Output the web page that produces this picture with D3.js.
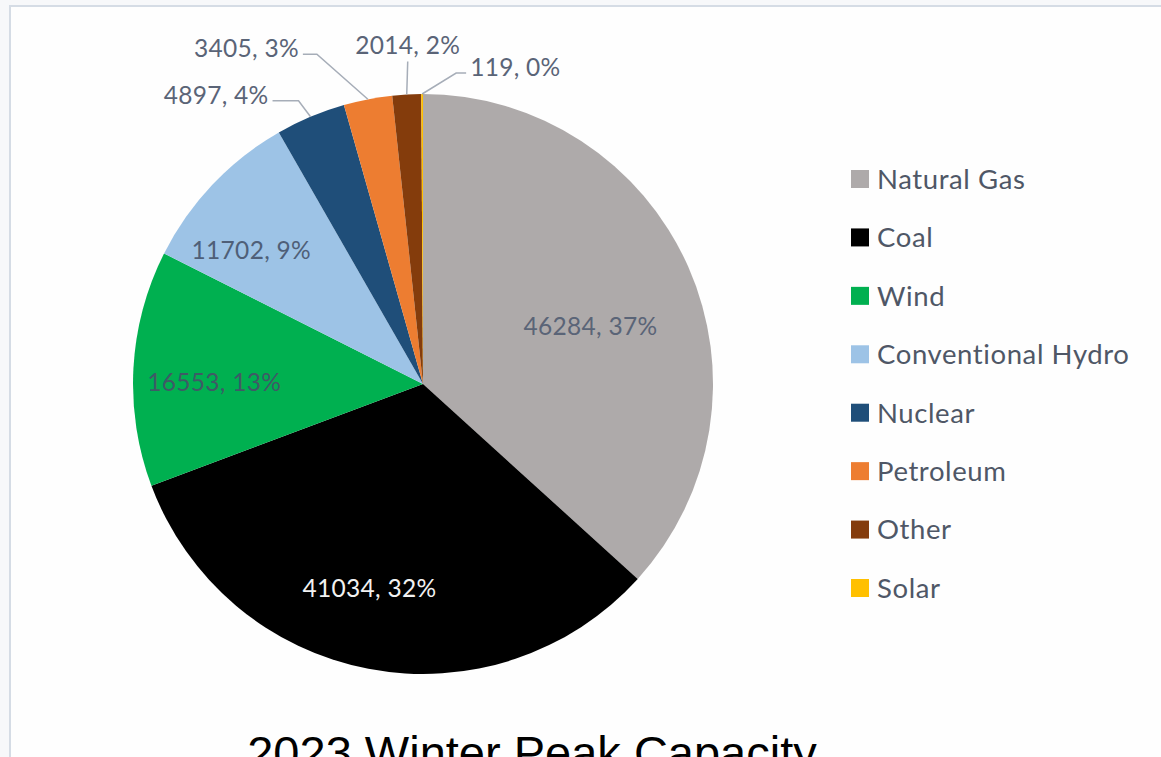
<!DOCTYPE html>
<html>
<head>
<meta charset="utf-8">
<script src="https://cdn.jsdelivr.net/npm/d3@7"></script>
<style>
    html, body { margin: 0; padding: 0; overflow: hidden; background: #f7f8fa; }
    svg { display: block; }
</style>
</head>
<body>
<svg id="chart"></svg>
<script>
// 2023 winter peak capacity by fuel type (MW)
const categories = ["Natural Gas", "Coal", "Wind", "Conventional Hydro", "Nuclear", "Petroleum", "Other", "Solar"];
const capacity = [46284, 41034, 16553, 11702, 4897, 3405, 2014, 119];
const colors = ["#aeaaaa", "#000000", "#00b050", "#9dc3e6", "#1f4e79", "#ed7d31", "#843c0c", "#ffc000"];
const title = "2023 Winter Peak Capacity";

function render() {
    const width = 1161;
    const height = 757;
    const cx = 423, cy = 384, radius = 290;

    const svg = d3.select("#chart")
        .attr("width", width)
        .attr("height", height);

    // slide frame
    svg.append("rect")
        .attr("x", 0).attr("y", 0)
        .attr("width", width).attr("height", height)
        .attr("fill", "#f7f8fa");
    svg.append("rect")
        .attr("x", 10).attr("y", 6)
        .attr("width", width + 10).attr("height", height + 10)
        .attr("fill", "#fefefe")
        .attr("stroke", "#d5dce5")
        .attr("stroke-width", 2);

    const color = d3.scaleOrdinal().domain(categories).range(colors);
    const total = d3.sum(capacity);
    const rows = categories.map((c, i) => ({ name: c, value: capacity[i] }));

    // whole percentages that add up to 100 (largest remainder)
    const raw = capacity.map(v => v / total * 100);
    const pct = raw.map(Math.floor);
    let left = 100 - d3.sum(pct);
    d3.range(raw.length)
        .sort((a, b) => (raw[b] - pct[b]) - (raw[a] - pct[a]))
        .forEach(function (i) {
            if (left > 0) { pct[i] += 1; left -= 1; }
        });
    rows.forEach((r, i) => r.pct = pct[i]);

    const pie = d3.pie()
        .sort(null)
        .value(d => d.value);
    const arcs = pie(rows);

    const arc = d3.arc().innerRadius(0).outerRadius(radius);

    const g = svg.append("g")
        .attr("transform", "translate(" + cx + "," + cy + ")");

    g.selectAll("path.slice")
        .data(arcs)
        .enter().append("path")
        .attr("class", "slice")
        .attr("d", arc)
        .attr("fill", d => color(d.data.name));

    function labelText(d) {
        return d.data.value + ", " + d.data.pct + "%";
    }

    // point at a given radius and angle (radians, clockwise from top)
    function polar(r, a) {
        return [r * Math.sin(a), -r * Math.cos(a)];
    }

    // labels inside the big slices: [radius factor, angle shift in degrees, colour]
    const inside = {
        "Natural Gas": [0.61, 5, "#5a6477"],
        "Coal": [0.73, 3.8, "#f2f2f2"],
        "Wind": [0.72, -2.7, "#3f5a66"],
        "Conventional Hydro": [0.75, -5.6, "#4f5f78"]
    };

    const labelFont = "Lato, 'Open Sans', sans-serif";

    g.selectAll("text.inner")
        .data(arcs.filter(d => inside[d.data.name]))
        .enter().append("text")
        .attr("class", "inner")
        .attr("transform", function (d) {
            const s = inside[d.data.name];
            const a = (d.startAngle + d.endAngle) / 2 + s[1] * Math.PI / 180;
            const p = polar(radius * s[0], a);
            return "translate(" + p[0] + "," + p[1] + ")";
        })
        .attr("dy", "0.35em")
        .attr("text-anchor", "middle")
        .style("font-family", labelFont)
        .style("font-size", "24.5px")
        .style("letter-spacing", "0.3px")
        .attr("fill", d => inside[d.data.name][2])
        .text(labelText);

    // callout labels for the thin slices: elbow offset from the edge and horizontal run
    const outside = {
        "Nuclear": { elbow: [-12, -16], run: -26 },
        "Petroleum": { elbow: [-51, -45], run: -14 },
        "Other": { elbow: [1, -33], run: 0 },
        "Solar": { elbow: [34, -21], run: 10 }
    };

    const callouts = g.selectAll("g.callout")
        .data(arcs.filter(d => outside[d.data.name]))
        .enter().append("g")
        .attr("class", "callout");

    callouts.append("path")
        .attr("fill", "none")
        .attr("stroke", "#a6adb8")
        .attr("stroke-width", 1.5)
        .attr("d", function (d) {
            const o = outside[d.data.name];
            const e = polar(radius, (d.startAngle + d.endAngle) / 2);
            const b = [e[0] + o.elbow[0], e[1] + o.elbow[1]];
            return "M" + e[0] + "," + e[1] + "L" + b[0] + "," + b[1] +
                "L" + (b[0] + o.run) + "," + b[1];
        });

    callouts.append("text")
        .attr("x", function (d) {
            const o = outside[d.data.name];
            const e = polar(radius, (d.startAngle + d.endAngle) / 2);
            const gap = o.run === 0 ? 0 : (o.run < 0 ? -4 : 4);
            return e[0] + o.elbow[0] + o.run + gap;
        })
        .attr("y", function (d) {
            const o = outside[d.data.name];
            const e = polar(radius, (d.startAngle + d.endAngle) / 2);
            return e[1] + o.elbow[1] + (o.run === 0 ? -7 : 3);
        })
        .attr("text-anchor", function (d) {
            const o = outside[d.data.name];
            return o.run === 0 ? "middle" : (o.run < 0 ? "end" : "start");
        })
        .style("font-family", labelFont)
        .style("font-size", "24.5px")
        .style("letter-spacing", "0.3px")
        .attr("fill", "#5a6477")
        .text(labelText);

    // legend
    const legendY = d3.scalePoint()
        .domain(categories)
        .range([179, 588]);

    const legend = svg.append("g")
        .attr("class", "legend")
        .selectAll("g")
        .data(categories)
        .enter().append("g")
        .attr("transform", d => "translate(851," + legendY(d) + ")");

    legend.append("rect")
        .attr("x", 0)
        .attr("y", -9)
        .attr("width", 18)
        .attr("height", 18)
        .attr("fill", d => color(d));

    legend.append("text")
        .attr("x", 26)
        .attr("dy", "0.36em")
        .style("font-family", labelFont)
        .style("font-size", "27.5px")
        .style("letter-spacing", "0.6px")
        .attr("fill", "#4f5766")
        .text(d => d);

    // title, cut off by the bottom of the slide crop as in the source
    svg.append("text")
        .attr("x", 532)
        .attr("y", 769)
        .attr("text-anchor", "middle")
        .style("font-family", "'Liberation Sans', Arial, sans-serif")
        .style("font-size", "47px")
        .attr("fill", "#000")
        .text(title);
}

render();
</script>
</body>
</html>
